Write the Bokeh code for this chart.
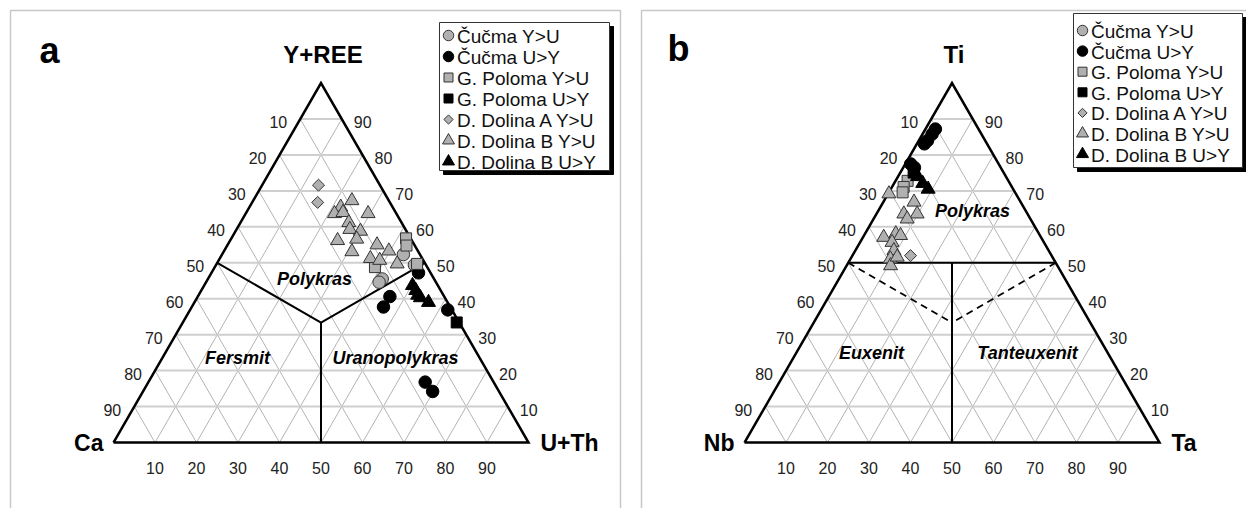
import numpy as np
from bokeh.plotting import figure
from bokeh.models import Range1d
from bokeh.core.properties import value
from bokeh.embed import file_html
from bokeh.resources import INLINE

W, H = 1246, 508
FONT = "Liberation Sans"

tick_values = [10, 20, 30, 40, 50, 60, 70, 80, 90]
series_labels = ["Čučma Y>U", "Čučma U>Y", "G. Poloma Y>U", "G. Poloma U>Y",
                 "D. Dolina A Y>U", "D. Dolina B Y>U", "D. Dolina B U>Y"]

# ---------------- Panel a: Y+REE (top) and U+Th (right), % ; Ca = rest
a_cucma_yu_top = [52.3, 49.4, 45.5, 44.6]
a_cucma_yu_right = [43.7, 47.8, 42.0, 41.7]
a_cucma_uy_top = [47.2, 40.6, 37.7, 36.9, 16.8, 14.2]
a_cucma_uy_right = [49.9, 46.3, 46.2, 62.1, 66.7, 69.8]
a_poloma_yu_top = [56.8, 54.8, 49.7, 48.8]
a_poloma_yu_right = [42.1, 43.2, 48.3, 38.6]
a_poloma_uy_top = [33.4]
a_poloma_uy_right = [66.0]
a_dolinaA_yu_top = [71.6, 66.8]
a_dolinaA_yu_right = [13.6, 15.8]
a_dolinaB_yu_top = [67.3, 65.5, 63.7, 64.0, 63.7, 61.2, 59.3, 58.8, 56.6, 56.2,
                    53.1, 55.0, 53.3, 51.2, 50.7, 49.7]
a_dolinaB_yu_right = [23.8, 22.0, 21.4, 23.3, 29.5, 26.1, 27.3, 30.1, 30.3, 25.9,
                      30.9, 36.0, 39.7, 36.3, 38.8, 43.5]
a_dolinaB_uy_top = [43.7, 42.3, 41.0, 40.3, 39.0]
a_dolinaB_uy_right = [50.2, 51.7, 52.8, 53.8, 56.4]

# ---------------- Panel b: Ti (top) and Ta (right), % ; Nb = rest
b_cucma_yu_top = []
b_cucma_yu_right = []
b_cucma_uy_top = [87.2, 85.8, 84.0, 83.1, 77.5, 76.5]
b_cucma_uy_right = [2.4, 2.3, 2.1, 1.8, 1.3, 2.7]
b_poloma_yu_top = [72.8, 71.1, 69.6]
b_poloma_yu_right = [2.9, 2.8, 3.3]
b_poloma_uy_top = [75.1]
b_poloma_uy_right = [3.2]
b_dolinaA_yu_top = [52.0]
b_dolinaA_yu_right = [14.0]
b_dolinaB_yu_top = [69.2, 66.9, 63.6, 63.6, 62.2, 58.1, 57.1, 57.6, 55.7, 53.4,
                    51.1, 49.2, 51.6]
b_dolinaB_yu_right = [0.2, 7.4, 6.6, 9.8, 8.1, 7.4, 5.0, 8.8, 7.7, 9.3,
                      9.6, 10.6, 11.0]
b_dolinaB_uy_top = [74.0, 72.1, 70.5]
b_dolinaB_uy_right = [4.7, 6.9, 9.0]

GREY = "#b0b0b0"
EDGE = "#333333"
styles = [  # marker, fill, size, angle
    ("circle", GREY, 12.5, 0.0),
    ("circle", "black", 12.5, 0.0),
    ("square", GREY, 11, 0.0),
    ("square", "black", 11, 0.0),
    ("square", GREY, 8.5, np.pi / 4),
    ("triangle", GREY, 14, 0.0),
    ("triangle", "black", 14, 0.0),
]

a_series = [(a_cucma_yu_top, a_cucma_yu_right), (a_cucma_uy_top, a_cucma_uy_right),
            (a_poloma_yu_top, a_poloma_yu_right), (a_poloma_uy_top, a_poloma_uy_right),
            (a_dolinaA_yu_top, a_dolinaA_yu_right), (a_dolinaB_yu_top, a_dolinaB_yu_right),
            (a_dolinaB_uy_top, a_dolinaB_uy_right)]
b_series = [(b_cucma_yu_top, b_cucma_yu_right), (b_cucma_uy_top, b_cucma_uy_right),
            (b_poloma_yu_top, b_poloma_yu_right), (b_poloma_uy_top, b_poloma_uy_right),
            (b_dolinaA_yu_top, b_dolinaA_yu_right), (b_dolinaB_yu_top, b_dolinaB_yu_right),
            (b_dolinaB_uy_top, b_dolinaB_uy_right)]

L = 415.0
HT = L * np.sqrt(3) / 2


def Y(v):
    return H - np.asarray(v, dtype=float)


p = figure(width=W, height=H, x_range=Range1d(0, W), y_range=Range1d(0, H),
           output_backend="svg", toolbar_location=None, min_border=0,
           x_axis_location=None, y_axis_location=None)
p.xgrid.visible = False
p.ygrid.visible = False
p.outline_line_color = None
p.background_fill_color = "white"
p.border_fill_color = "white"


def txt(x, y, s, size, align="center", baseline="middle", style="normal", color="#000000"):
    p.text(x=[x], y=[float(Y(y))], text=[s], text_font=value(FONT),
           text_font_size=f"{size}px", text_align=align, text_baseline=baseline,
           text_font_style=style, text_color=color)


# panel frames
p.line(x=[10, 10, 620, 620], y=Y([515, 10, 10, 515]), line_color="#c8c8c8", line_width=1.5)
p.line(x=[641, 641, 1260], y=Y([515, 10, 10]), line_color="#c8c8c8", line_width=1.5)

panels = [
    dict(ox=113.0, oy=442.0, letter="a", lx=49, ly=50, top="Y+REE", left="Ca", right="U+Th",
         series=a_series, kind="a",
         regions=[("Polykras", 314, 278), ("Fersmit", 237, 357), ("Uranopolykras", 395, 357)],
         legend=(439, 22, 609, 170, 35, 21.0)),
    dict(ox=744.0, oy=442.0, letter="b", lx=678, ly=48, top="Ti", left="Nb", right="Ta",
         series=b_series, kind="b",
         regions=[("Polykras", 972, 210), ("Euxenit", 871, 352), ("Tanteuxenit", 1027, 352)],
         legend=(1073, 13, 1242, 167, 30, 20.6)),
]

for P in panels:
    ox, oy = P["ox"], P["oy"]

    def tern(top, right, ox=ox, oy=oy):
        t = np.asarray(top, dtype=float) / 100.0
        r = np.asarray(right, dtype=float) / 100.0
        return ox + L * (r + t / 2), Y(oy) + HT * t

    # grid
    hx, hy, dx, dy = [], [], [], []
    for k in tick_values:
        x0, y0 = tern(k, 0)
        x1, y1 = tern(k, 100 - k)
        hx.append([float(x0), float(x1)]); hy.append([float(y0), float(y1)])
        x0, y0 = tern(0, k)
        x1, y1 = tern(100 - k, k)
        dx.append([float(x0), float(x1)]); dy.append([float(y0), float(y1)])
        x0, y0 = tern(0, 100 - k)
        x1, y1 = tern(100 - k, 0)
        dx.append([float(x0), float(x1)]); dy.append([float(y0), float(y1)])
    p.multi_line(xs=dx, ys=dy, line_color="#b4b4b4", line_width=1)
    p.multi_line(xs=hx, ys=hy, line_color="#cfcfcf", line_width=2)

    # region boundaries
    cx, cy = tern(100 / 3, 100 / 3)
    if P["kind"] == "a":
        for (t, r) in [(50, 0), (50, 50), (0, 50)]:
            x0, y0 = tern(t, r)
            p.line(x=[float(x0), float(cx)], y=[float(y0), float(cy)], line_color="black", line_width=2)
    else:
        x0, y0 = tern(50, 0); x1, y1 = tern(50, 50)
        p.line(x=[float(x0), float(x1)], y=[float(y0), float(y1)], line_color="black", line_width=2)
        xm, ym = tern(50, 25); xb, yb = tern(0, 50)
        p.line(x=[float(xm), float(xb)], y=[float(ym), float(yb)], line_color="black", line_width=2)
        for (xa, ya) in [(x0, y0), (x1, y1)]:
            p.line(x=[float(xa), float(cx)], y=[float(ya), float(cy)], line_color="black",
                   line_width=1.8, line_dash="7 5")

    # outer triangle
    vx, vy = tern([0, 0, 100, 0], [0, 100, 0, 0])
    p.line(x=vx, y=vy, line_color="black", line_width=2.5, line_join="miter")

    # tick labels
    for k in tick_values:
        ex, ey = tern(100 - k, 0)
        p.text(x=[float(ex) - 13], y=[float(ey) - 3], text=[str(k)], text_font=value(FONT),
               text_font_size="16px", text_align="right", text_baseline="middle", text_color="#222222")
        ex, ey = tern(k, 100 - k)
        p.text(x=[float(ex) + 12], y=[float(ey) - 3], text=[str(k)], text_font=value(FONT),
               text_font_size="16px", text_align="left", text_baseline="middle", text_color="#222222")
        ex, ey = tern(0, k)
        p.text(x=[float(ex)], y=[float(ey) - 25], text=[str(k)], text_font=value(FONT),
               text_font_size="16px", text_align="center", text_baseline="middle", text_color="#222222")

    # vertex labels
    txt(ox - 10, oy, P["left"], 23, align="right", style="bold")
    txt(ox + L + 12, oy, P["right"], 23, align="left", style="bold")
    txt(ox + L / 2 + 2, oy - HT - 29, P["top"], 24, style="bold")
    txt(P["lx"], P["ly"], P["letter"], 36, style="bold")

    for (name, rx, ry) in P["regions"]:
        txt(rx, ry, name, 18, style="bold italic")

    # data
    for (top, right), (mk, fill, sz, ang) in zip(P["series"], styles):
        if len(top) == 0:
            continue
        xs, ys = tern(top, right)
        p.scatter(x=xs, y=ys, marker=mk, size=sz, angle=ang, fill_color=fill,
                  line_color=EDGE if fill != "black" else "black", line_width=1)

    # legend
    l0, t0, r0, b0, row0, step = P["legend"]
    p.quad(left=l0 + 4, right=r0 + 4, top=float(Y(t0 + 4)), bottom=float(Y(b0 + 4)),
           fill_color="black", line_color="black")
    p.quad(left=l0, right=r0, top=float(Y(t0)), bottom=float(Y(b0)),
           fill_color="white", line_color="#333333", line_width=1)
    for i, (lab, (mk, fill, sz, ang)) in enumerate(zip(series_labels, styles)):
        yy = row0 + step * i
        p.scatter(x=[l0 + 9], y=[float(Y(yy))], marker=mk, size=sz - 2, angle=ang,
                  fill_color=fill, line_color=EDGE if fill != "black" else "black", line_width=1)
        txt(l0 + 17.5, yy + 1, lab, 19, align="left", color="#111111")

open("out.html", "w").write(file_html(p, INLINE))
